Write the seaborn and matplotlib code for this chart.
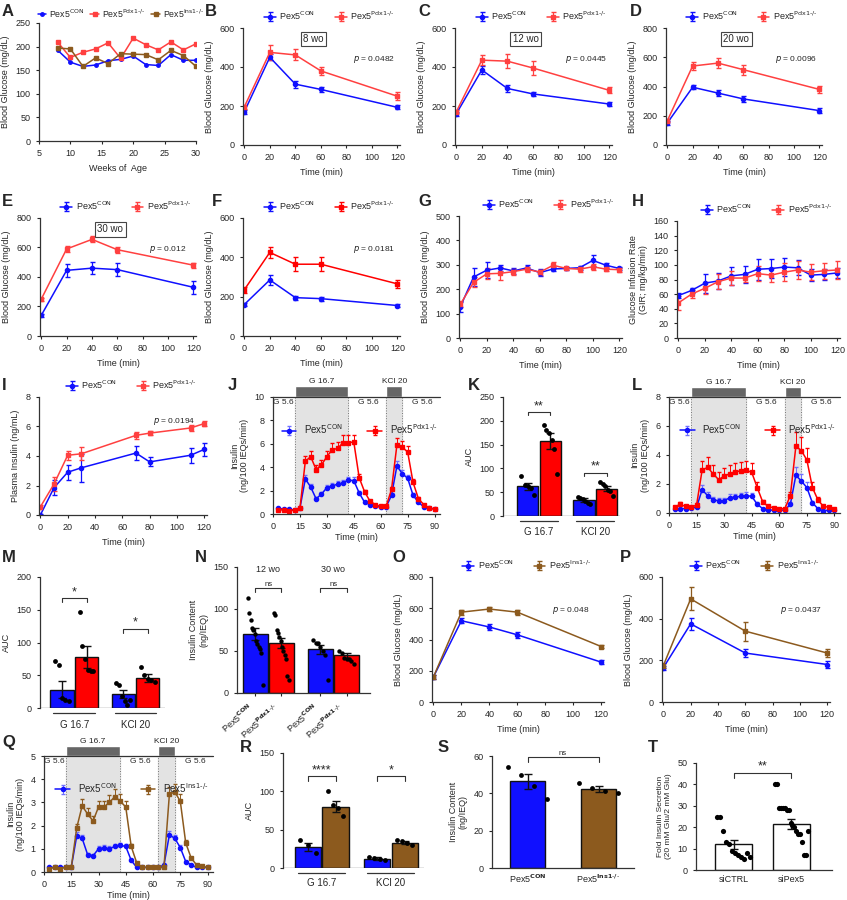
import numpy as np
import seaborn as sns
import matplotlib
matplotlib.use("Agg")
from matplotlib import pyplot as plt

BLUE = "#1010ff"
RED = "#ff4040"
RED_BAR = "#ff0000"
BROWN = "#8c5a1e"

CON = r"Pex5$^{\mathrm{CON}}$"
PDX = r"Pex5$^{\mathrm{Pdx1\text{-}/\text{-}}}$"
INS = r"Pex5$^{\mathrm{Ins1\text{-}/\text{-}}}$"

# ---- data ----
a_weeks = [8, 10, 12, 14, 16, 18, 20, 22, 24, 26, 28, 30]
a_con = [192, 167, 158, 161, 170, 173, 180, 162, 160, 183, 171, 171]
a_pdx = [209, 177, 188, 195, 208, 175, 218, 204, 193, 210, 193, 206]
a_ins = [197, 195, 158, 176, 164, 185, 184, 183, 172, 192, 181, 158]

gtt_t = [0, 20, 40, 60, 120]
b_con = [170, 450, 312, 285, 193]
b_con_err = [12, 15, 18, 12, 10]
b_pdx = [195, 475, 462, 380, 250]
b_pdx_err = [8, 40, 28, 20, 20]
c_con = [160, 385, 290, 262, 210]
c_con_err = [10, 22, 18, 12, 10]
c_pdx = [170, 435, 430, 395, 280]
c_pdx_err = [8, 25, 35, 35, 15]
d_con = [150, 395, 355, 315, 235]
d_con_err = [15, 15, 20, 18, 15]
d_pdx = [165, 540, 560, 515, 380]
d_pdx_err = [10, 30, 35, 35, 25]
e_con = [140, 445, 460, 450, 330]
e_con_err = [10, 45, 40, 45, 45]
e_pdx = [250, 590, 655, 585, 480]
e_pdx_err = [10, 20, 20, 20, 18]
f_con = [160, 285, 195, 190, 155]
f_con_err = [10, 25, 10, 10, 10]
f_pdx = [235, 425, 365, 365, 265]
f_pdx_err = [15, 30, 35, 35, 20]

clamp_t = [0, 10, 20, 30, 40, 50, 60, 70, 80, 90, 100, 110, 120]
g_con = [128, 250, 278, 287, 275, 287, 268, 283, 285, 288, 318, 298, 285]
g_con_err = [20, 35, 32, 12, 12, 12, 15, 8, 8, 8, 22, 10, 8]
g_pdx = [138, 228, 263, 265, 272, 282, 270, 298, 285, 282, 292, 282, 280]
g_pdx_err = [12, 20, 22, 28, 12, 10, 10, 12, 8, 10, 12, 8, 8]
h_con = [58, 65, 75, 78, 85, 87, 94, 95, 97, 96, 86, 87, 89]
h_con_err = [3, 4, 13, 11, 12, 12, 14, 13, 12, 10, 8, 7, 7]
h_pdx = [48, 60, 68, 77, 82, 82, 88, 86, 90, 93, 90, 92, 93]
h_pdx_err = [10, 5, 8, 10, 10, 6, 10, 10, 12, 12, 11, 11, 12]

i_t = [0, 10, 20, 30, 70, 80, 110, 120]
i_con = [0.0, 1.85, 2.9, 3.2, 4.2, 3.6, 4.05, 4.45]
i_con_err = [0.05, 0.5, 0.5, 0.95, 0.5, 0.3, 0.5, 0.45]
i_pdx = [0.55, 2.1, 4.05, 4.15, 5.4, 5.55, 5.9, 6.2]
i_pdx_err = [0.15, 0.5, 0.3, 0.45, 0.25, 0.15, 0.2, 0.2]

peri_t = list(range(3, 91, 3))
j_con = [0.5, 0.4, 0.4, 0.35, 0.5, 3.0, 2.3, 1.3, 1.7, 2.25, 2.4, 2.55, 2.65, 2.9, 2.85,
         1.8, 1.0, 0.8, 0.65, 0.6, 0.6, 1.6, 4.1, 3.45, 3.05, 1.6, 1.0, 0.6, 0.5, 0.45]
j_pdx = [0.35, 0.35, 0.25, 0.35, 0.5, 4.5, 4.9, 3.8, 4.2, 4.9, 5.5, 5.6, 6.1, 6.1, 6.15,
         3.1, 1.9, 1.1, 0.8, 0.65, 0.65, 2.1, 5.9, 5.7, 5.3, 2.7, 1.3, 0.8, 0.5, 0.4]
l_con = [0.25, 0.3, 0.3, 0.35, 0.4, 1.6, 1.2, 0.9, 0.85, 0.85, 1.05, 1.1, 1.15, 1.2, 1.15,
         0.6, 0.3, 0.2, 0.2, 0.2, 0.2, 0.6, 2.6, 2.2, 1.75, 0.7, 0.3, 0.15, 0.2, 0.2]
l_pdx = [0.4, 0.6, 0.45, 0.4, 0.55, 2.95, 3.15, 2.7, 2.3, 2.55, 2.7, 2.85, 2.9, 2.95, 2.8,
         1.75, 0.75, 0.45, 0.35, 0.3, 0.3, 1.2, 4.6, 4.3, 3.65, 1.75, 0.9, 0.45, 0.4, 0.3]
q_con = [0.2, 0.2, 0.2, 0.2, 0.2, 1.55, 1.45, 0.75, 0.7, 1.0, 1.05, 1.0, 1.1, 1.15, 1.1,
         0.5, 0.2, 0.2, 0.2, 0.2, 0.2, 0.3, 1.6, 1.45, 1.05, 0.45, 0.3, 0.2, 0.2, 0.2]
q_ins = [0.15, 0.2, 0.15, 0.2, 0.2, 1.9, 2.85, 2.5, 2.2, 2.8, 2.8, 3.0, 3.25, 3.05, 2.8,
         1.1, 0.4, 0.2, 0.2, 0.2, 0.2, 0.2, 3.35, 3.45, 3.05, 1.25, 0.6, 0.3, 0.25, 0.2]

auc_groups = ["G 16.7", "KCl 20"]
k_means = [62, 157, 33, 57]
k_errs = [8, 17, 4, 5]
k_pts = [[85, 65, 62, 58, 45], [192, 180, 175, 160, 140, 88],
         [40, 38, 35, 32, 28, 25], [72, 68, 62, 55, 52, 42]]
m_means = [28, 78, 21, 46]
m_errs = [13, 17, 6, 6]
m_pts = [[72, 65, 15, 12, 10], [147, 95, 75, 58, 57, 57],
         [38, 35, 18, 10, 5, 12], [62, 50, 45, 42, 40]]
r_means = [27, 80, 12, 33]
r_errs = [5, 7, 2, 2]
r_pts = [[37, 30, 20], [100, 82, 78, 68], [15, 13, 12, 10], [37, 35, 32, 30]]

n_ages = ["12 wo", "30 wo"]
n_means = [70, 59, 52, 45]
n_errs = [7, 6, 5, 3]
n_pts = [[113, 95, 87, 77, 75, 70, 62, 58, 55, 52, 48, 10],
         [95, 93, 75, 72, 67, 62, 55, 50, 45, 40, 20, 15],
         [63, 60, 60, 55, 50, 45, 15], [50, 48, 42, 40, 40, 38, 35]]

o_con = [160, 520, 480, 430, 255]
o_con_err = [10, 15, 18, 20, 12]
o_ins = [160, 575, 595, 575, 355]
o_ins_err = [10, 15, 15, 15, 12]
p_t = [0, 20, 60, 120]
p_con = [165, 375, 235, 180]
p_con_err = [10, 30, 18, 15]
p_ins = [175, 495, 340, 235]
p_ins_err = [10, 55, 45, 20]

s_means = [46.5, 42.3]
s_errs = [4, 1.5]
s_pts = [[54, 50, 44, 37], [45.5, 43, 41, 40]]
t_labels = ["siCTRL", "siPex5"]
t_means = [12, 21.5]
t_errs = [2, 2.5]
t_pts = [[25, 25, 18, 13, 12, 9, 8, 7, 6, 5, 8, 6],
         [40, 40, 29, 29, 29, 29, 28, 28, 22, 21, 20, 18, 17, 17, 13, 7, 7, 18]]

# ---- figure ----
sns.set_style("ticks")
plt.rcParams["font.family"] = ["Liberation Sans", "DejaVu Sans"]
plt.rcParams["font.size"] = 6.5
plt.rcParams["axes.linewidth"] = 0.9
plt.rcParams["axes.edgecolor"] = "#333333"
plt.rcParams["xtick.major.size"] = 2.5
plt.rcParams["ytick.major.size"] = 2.5
plt.rcParams["xtick.labelsize"] = 6.5
plt.rcParams["ytick.labelsize"] = 6.5
plt.rcParams["axes.labelsize"] = 6.5

W, H = 847, 900
fig = plt.figure(figsize=(W / 100, H / 100), dpi=100)


def axes_px(x0, y0, x1, y1):
    ax = fig.add_axes([x0 / W, 1 - y1 / H, (x1 - x0) / W, (y1 - y0) / H])
    sns.despine(ax=ax)
    return ax


def letter(x, y, s):
    fig.text(x / W, 1 - y / H, s, fontsize=12, fontweight="bold", va="center", ha="left")


def series(ax, x, y, err, color, marker, label, ms=3):
    ax.errorbar(x, y, yerr=err, color=color, marker=marker, ms=ms, lw=1.1,
                capsize=1.8, elinewidth=0.9, label=label)


def top_legend(ax, y=1.02):
    ax.legend(loc="lower center", bbox_to_anchor=(0.55, y), ncol=2, frameon=False,
              fontsize=6.5, handlelength=1.3, handletextpad=0.4, columnspacing=2.2,
              borderaxespad=0)


def gtt(ax, con, con_err, other, other_err, ocolor, olabel, ymax, step, t=gtt_t,
        pval=None, box=None):
    series(ax, t, con, con_err, BLUE, "o", CON)
    series(ax, t, other, other_err, ocolor, "s", olabel)
    ax.set_xlim(-1, 122)
    ax.set_xticks(range(0, 121, 20))
    ax.set_ylim(0, ymax)
    ax.set_yticks(range(0, ymax + 1, step))
    ax.set_xlabel("Time (min)")
    ax.set_ylabel("Blood Glucose (mg/dL)")
    top_legend(ax)
    if pval:
        ax.text(0.7, 0.72, r"$p$ = " + pval, transform=ax.transAxes, fontsize=6)
    if box:
        ax.text(0.45, 0.88, box, transform=ax.transAxes, fontsize=7, ha="center",
                bbox=dict(boxstyle="square,pad=0.25", fc="white", ec="#444444", lw=0.8))


def perifusion(ax, con, other, ocolor, olabel, ymax, step, err_frac):
    ax.axvspan(12, 42, color="#e3e3e3", zorder=0)
    ax.axvspan(63, 72, color="#e3e3e3", zorder=0)
    for xv in (12, 42, 63, 72):
        ax.axvline(xv, color="#777777", ls=":", lw=0.7, zorder=1)
    ax.errorbar(peri_t, con, yerr=[np.zeros(len(con)), np.array(con) * err_frac],
                color=BLUE, marker="o", ms=3, lw=1.1, capsize=1.5, elinewidth=0.7,
                ecolor="#7070ff", label=CON)
    ax.errorbar(peri_t, other, yerr=[np.zeros(len(other)), np.array(other) * err_frac],
                color=ocolor, marker="s", ms=3, lw=1.1, capsize=1.5, elinewidth=0.7,
                label=olabel)
    ax.set_xlim(0, 93)
    ax.set_xticks(range(0, 91, 15))
    ax.set_ylim(0, ymax)
    ax.set_yticks(np.arange(0, ymax + 0.01, step))
    ax.set_xlabel("Time (min)", labelpad=1.5)
    ax.set_ylabel("Insulin\n(ng/100 IEQs/min)")
    ax.axhline(ymax, color="#333333", lw=0.9, clip_on=False)
    bh = ymax * 0.09
    ax.bar([27, 67.5], [bh, bh], width=[30, 9], bottom=ymax, color="#666666",
           clip_on=False)
    ax.text(27, ymax + bh * 1.1, "G 16.7", ha="center", va="bottom", fontsize=6)
    ax.text(67.5, ymax + bh * 1.1, "KCl 20", ha="center", va="bottom", fontsize=6)
    for xx in (5.5, 53, 83):
        ax.text(xx, ymax * 0.985, "G 5.6", ha="center", va="top", fontsize=6)
    ax.legend(loc="upper center", bbox_to_anchor=(0.52, 0.86), ncol=2, frameon=False,
              fontsize=7, handlelength=1.5, columnspacing=2.5)


def bars(ax, pos, means, errs, pts, colors, width=0.9, ms=12):
    ax.bar(pos, means, width=width, color=colors, edgecolor="#111111", lw=1.0, zorder=1)
    ax.errorbar(pos, means, yerr=errs, fmt="none", ecolor="#111111", capsize=3,
                elinewidth=1.0, zorder=3)
    for p, vals in zip(pos, pts):
        n = len(vals)
        off = np.linspace(-0.28, 0.28, n) if n > 1 else np.zeros(1)
        ax.scatter(p + off, vals, s=ms, color="black", zorder=4, lw=0)


def bracket(ax, x0, x1, y, h, txt, fs=9):
    ax.plot([x0, x0, x1, x1], [y, y + h, y + h, y], color="#333333", lw=0.8)
    ax.text((x0 + x1) / 2, y + h, txt, ha="center", va="bottom", fontsize=fs)


def group_axis(ax, groups, centers, half=0.85):
    ax.set_xticks([])
    ax.spines["bottom"].set_visible(False)
    for g, c in zip(groups, centers):
        ax.plot([c - half, c + half], [-0.04, -0.04], color="#333333", lw=0.9,
                transform=ax.get_xaxis_transform(), clip_on=False)
        ax.text(c, -0.09, g, ha="center", va="top", fontsize=7,
                transform=ax.get_xaxis_transform())
    ax.axhline(0, color="#333333", lw=0.9)


# A
letter(2, 12, "A")
ax = axes_px(39, 23, 196, 141)
ax.plot(a_weeks, a_con, color=BLUE, marker="o", ms=2.5, lw=1.1, label=CON)
ax.plot(a_weeks, a_pdx, color=RED, marker="s", ms=2.5, lw=1.1, label=PDX)
ax.plot(a_weeks, a_ins, color=BROWN, marker="s", ms=2.5, lw=1.1, label=INS)
ax.set_xlim(5, 30)
ax.set_ylim(0, 250)
ax.set_yticks(range(0, 251, 50))
ax.set_xlabel("Weeks of  Age")
ax.set_ylabel("Blood Glucose (mg/dL)")
ax.legend(loc="lower center", bbox_to_anchor=(0.52, 1.0), ncol=3, frameon=False,
          fontsize=6.3, handlelength=1.0, handletextpad=0.3, columnspacing=0.7,
          borderaxespad=0)

letter(205, 12, "B")
gtt(axes_px(243, 28, 400, 145), b_con, b_con_err, b_pdx, b_pdx_err, RED, PDX, 600, 200,
    pval="0.0482", box="8 wo")
letter(418, 12, "C")
gtt(axes_px(455, 28, 612, 145), c_con, c_con_err, c_pdx, c_pdx_err, RED, PDX, 600, 200,
    pval="0.0445", box="12 wo")
letter(630, 12, "D")
gtt(axes_px(666, 28, 822, 145), d_con, d_con_err, d_pdx, d_pdx_err, RED, PDX, 800, 200,
    pval="0.0096", box="20 wo")

letter(2, 202, "E")
gtt(axes_px(40, 218, 196, 336), e_con, e_con_err, e_pdx, e_pdx_err, RED, PDX, 800, 200,
    pval="0.012", box="30 wo")
letter(212, 202, "F")
gtt(axes_px(243, 218, 400, 336), f_con, f_con_err, f_pdx, f_pdx_err, RED_BAR, PDX, 600, 200,
    pval="0.0181")
letter(418, 202, "G")
gtt(axes_px(459, 216, 622, 338), g_con, g_con_err, g_pdx, g_pdx_err, RED, PDX, 500, 100,
    t=clamp_t)
letter(632, 202, "H")
ax = axes_px(677, 221, 840, 338)
gtt(ax, h_con, h_con_err, h_pdx, h_pdx_err, RED, PDX, 160, 20, t=clamp_t)
ax.set_ylabel("Glucose Infusion Rate\n(GIR; mg/kg/min)")

letter(2, 385, "I")
ax = axes_px(39, 397, 207, 515)
gtt(ax, i_con, i_con_err, i_pdx, i_pdx_err, RED, PDX, 8, 2, t=i_t, pval=None)
ax.text(0.68, 0.78, r"$p$ = 0.0194", transform=ax.transAxes, fontsize=6)
ax.set_ylabel("Plasma Insulin (ng/mL)")

letter(228, 385, "J")
perifusion(axes_px(273, 397, 440, 514), j_con, j_pdx, RED_BAR, PDX, 10, 2, 0.1)

letter(468, 385, "K")
ax = axes_px(503, 397, 620, 516)
bars(ax, [0, 1, 2.5, 3.5], k_means, k_errs, k_pts, [BLUE, RED_BAR, BLUE, RED_BAR], width=0.95)
ax.set_xlim(-1.1, 4.1)
ax.set_ylim(0, 250)
ax.set_yticks(range(0, 251, 50))
ax.set_ylabel("AUC")
group_axis(ax, auc_groups, [0.5, 3.0])
bracket(ax, 0, 1, 212, 6, "**")
bracket(ax, 2.5, 3.5, 85, 6, "**")

letter(632, 385, "L")
perifusion(axes_px(669, 397, 840, 513), l_con, l_pdx, RED_BAR, PDX, 8, 2, 0.22)

letter(2, 557, "M")
ax = axes_px(40, 577, 165, 708)
bars(ax, [0, 1, 2.5, 3.5], m_means, m_errs, m_pts, [BLUE, RED_BAR, BLUE, RED_BAR], width=0.95)
ax.set_xlim(-0.9, 4.2)
ax.set_ylim(0, 200)
ax.set_yticks(range(0, 201, 50))
ax.set_ylabel("AUC")
group_axis(ax, auc_groups, [0.5, 3.0])
bracket(ax, 0, 1, 162, 6, "*")
bracket(ax, 2.5, 3.5, 115, 6, "*")

letter(195, 557, "N")
ax = axes_px(237, 567, 370, 693)
npos = [0.5, 1.5, 3.0, 4.0]
bars(ax, npos, n_means, n_errs, n_pts, [BLUE, RED_BAR, BLUE, RED_BAR], width=0.95, ms=10)
ax.set_xlim(-0.2, 4.9)
ax.set_ylim(0, 150)
ax.set_yticks(range(0, 151, 50))
ax.set_ylabel("Insulin Content\n(ng/IEQ)")
ax.set_xticks(npos)
ax.set_xticklabels([r"Pex5$^{\mathbf{CON}}$", r"Pex5$^{\mathbf{Pdx1\text{-}/\text{-}}}$"] * 2,
                   rotation=40, ha="right", fontsize=6.5)
bracket(ax, 0.5, 1.5, 120, 5, "ns", fs=5.5)
bracket(ax, 3.0, 4.0, 120, 5, "ns", fs=5.5)
for c, s in zip([1.0, 3.5], n_ages):
    ax.text(c, 147, s, ha="center", va="center", fontsize=6.5)

letter(392, 557, "O")
gtt(axes_px(432, 577, 604, 702), o_con, o_con_err, o_ins, o_ins_err, BROWN, INS, 800, 200,
    pval="0.048")
letter(620, 557, "P")
gtt(axes_px(662, 577, 830, 702), p_con, p_con_err, p_ins, p_ins_err, BROWN, INS, 600, 200,
    t=p_t, pval="0.0437")

letter(2, 743, "Q")
perifusion(axes_px(44, 756, 213, 872), q_con, q_ins, BROWN, INS, 5, 1, 0.1)

letter(240, 748, "R")
ax = axes_px(283, 753, 424, 868)
bars(ax, [0, 1, 2.5, 3.5], r_means, r_errs, r_pts, [BLUE, BROWN, BLUE, BROWN], width=0.95)
ax.set_xlim(-0.9, 4.2)
ax.set_ylim(0, 150)
ax.set_yticks(range(0, 151, 50))
ax.set_ylabel("AUC")
group_axis(ax, auc_groups, [0.5, 3.0])
bracket(ax, 0, 1, 114, 6, "****")
bracket(ax, 2.5, 3.5, 114, 6, "*")

letter(438, 748, "S")
ax = axes_px(492, 756, 634, 868)
bars(ax, [0, 1], s_means, s_errs, s_pts, [BLUE, BROWN], width=0.5)
ax.set_xlim(-0.5, 1.5)
ax.set_ylim(0, 60)
ax.set_yticks(range(0, 61, 20))
ax.set_ylabel("Insulin Content\n(ng/IEQ)")
ax.set_xticks([0, 1])
ax.set_xticklabels([r"Pex5$^{\mathbf{CON}}$", r"Pex5$^{\mathbf{Ins1\text{-}/\text{-}}}$"])
ax.tick_params(axis="x", length=0)
bracket(ax, 0, 1, 57, 2.5, "ns", fs=5.5)

letter(648, 748, "T")
ax = axes_px(696, 763, 832, 870)
bars(ax, [0, 1], t_means, t_errs, t_pts, ["white", "white"], width=0.65, ms=14)
ax.set_xlim(-0.65, 1.7)
ax.set_ylim(0, 50)
ax.set_yticks(range(0, 51, 10))
ax.set_ylabel("Fold Insulin Secretion\n(20 mM Glu/2 mM Glu)", fontsize=6)
ax.set_xticks([0, 1])
ax.set_xticklabels(t_labels)
ax.tick_params(axis="x", length=0)
bracket(ax, 0, 1, 43, 2.5, "**")

fig.savefig("out.png", dpi=100)
